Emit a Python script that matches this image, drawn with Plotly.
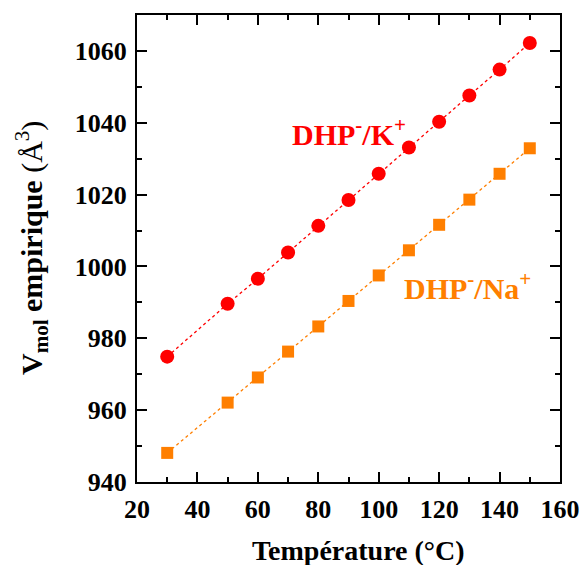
import plotly.graph_objects as go

temps_k = [30, 50, 60, 70, 80, 90, 100, 110, 120, 130, 140, 150]
vmol_k = [974.9, 989.6, 996.6, 1003.9, 1011.3, 1018.5, 1025.8, 1033.1, 1040.3, 1047.6, 1054.8, 1062.2]
temps_na = [30, 50, 60, 70, 80, 90, 100, 110, 120, 130, 140, 150]
vmol_na = [948.1, 962.1, 969.1, 976.3, 983.3, 990.4, 997.5, 1004.5, 1011.6, 1018.6, 1025.8, 1032.9]

x_ticks = [20, 40, 60, 80, 100, 120, 140, 160]
y_ticks = [940, 960, 980, 1000, 1020, 1040, 1060]

RED = "#ff0000"
ORANGE = "#ff7f00"
FONT = "Liberation Serif, Times New Roman, Times, serif"

fig = go.Figure()
fig.add_trace(go.Scatter(x=temps_k, y=vmol_k, mode="lines+markers",
                         line=dict(color=RED, width=1.3, dash="dot"),
                         marker=dict(symbol="circle", size=14, color=RED),
                         showlegend=False))
fig.add_trace(go.Scatter(x=temps_na, y=vmol_na, mode="lines+markers",
                         line=dict(color=ORANGE, width=1.3, dash="dot"),
                         marker=dict(symbol="square", size=12, color=ORANGE),
                         showlegend=False))

axis_common = dict(
    showline=True, linecolor="black", linewidth=2, mirror="ticks",
    ticks="inside", ticklen=10, tickwidth=2, tickcolor="black",
    showgrid=False, zeroline=False, automargin=False,
    tickfont=dict(family=FONT, size=26, color="black", weight="bold"),
    minor=dict(ticks="inside", ticklen=5, tickwidth=2, tickcolor="black"),
)

fig.update_xaxes(range=[20, 160], tickvals=x_ticks, ticktext=[str(v) for v in x_ticks],
                 minor_dtick=10, ticklabelstandoff=3, **axis_common)
fig.update_yaxes(range=[940, 1070], tickvals=y_ticks, ticktext=[str(v) for v in y_ticks],
                 minor_dtick=10, ticklabelstandoff=3, **axis_common)

fig.add_annotation(x=90, y=1037.5, xref="x", yref="y", showarrow=False,
                   xanchor="center", yanchor="middle",
                   text="<b>DHP<sup>-</sup>/K<sup>+</sup></b>",
                   font=dict(family=FONT, size=30, color=RED))
fig.add_annotation(x=129.5, y=994.5, xref="x", yref="y", showarrow=False,
                   xanchor="center", yanchor="middle",
                   text="<b>DHP<sup>-</sup>/Na<sup>+</sup></b>",
                   font=dict(family=FONT, size=30, color=ORANGE))

# axis titles
fig.add_annotation(x=(358 - 137) / 423, y=(482 - 550) / 467, xref="paper", yref="paper",
                   xanchor="center", yanchor="middle",
                   showarrow=False, text="<b>Température (°C)</b>",
                   font=dict(family=FONT, size=28, color="black"))
fig.add_annotation(x=(31 - 137) / 423, y=(482 - 248) / 467, xref="paper", yref="paper",
                   xanchor="center", yanchor="middle",
                   showarrow=False, textangle=-90,
                   text="<b>V<sub>mol</sub> empirique</b> (Å<sup>3</sup>)",
                   font=dict(family=FONT, size=30, color="black"))

fig.update_layout(width=581, height=565,
                  margin=dict(l=137, r=21, t=15, b=83),
                  paper_bgcolor="white", plot_bgcolor="white")

# remove the default page margin so the full 581x565 figure fits the window
fig.write_html("out.html",
               config={"displayModeBar": False},
               post_script="document.body.style.margin='0';document.body.style.overflow='hidden';")
